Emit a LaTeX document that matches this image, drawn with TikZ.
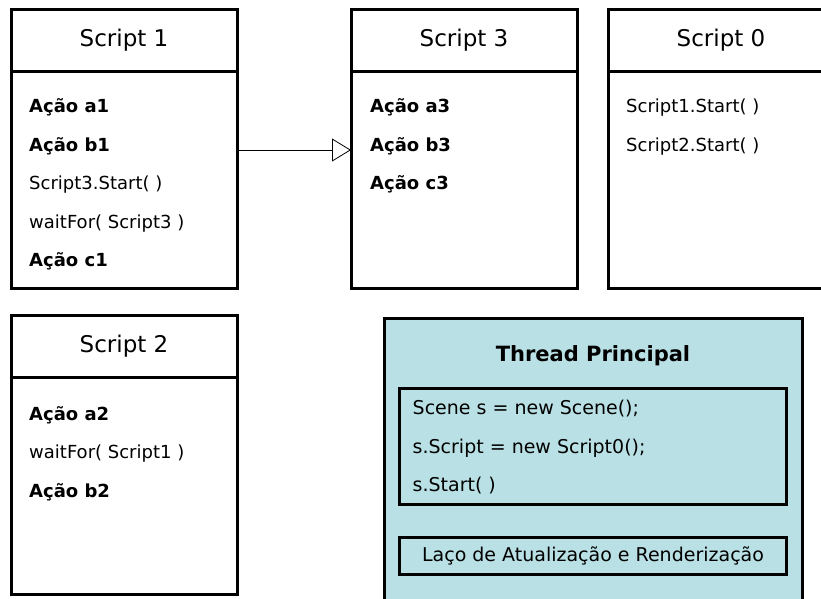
\documentclass[tikz,border=0pt]{standalone}
\usepackage{fontspec}
\setmainfont{DejaVu Sans}
\usetikzlibrary{arrows.meta, positioning, matrix}
\definecolor{threadfill}{RGB}{185,224,228}

\begin{document}
\begin{tikzpicture}[x=1pt, y=-1pt,
    box/.style={draw, line width=3pt, outer sep=0pt, inner sep=0pt,
        minimum width=226pt},
    head/.style={box, minimum height=62pt, font=\fontsize{23}{27}\selectfont},
    body/.style={box, minimum height=217pt},
    lines/.style={matrix of nodes, row sep=19.5pt, inner sep=0pt,
        nodes={anchor=base west, inner sep=1pt, text height=13pt,
            text depth=4pt, font=\fontsize{18}{22}\selectfont}},
    act/.style={font=\fontsize{18}{22}\selectfont\bfseries},
    inbox/.style={draw, line width=3pt, outer sep=0pt, minimum width=387pt}]
    \useasboundingbox (0,0) rectangle (821,598);

    % scripts: title on top, actions below
    \node[head] (h1) at (124,40) {Script 1};
    \node[body, below=0pt of h1] (s1) {};
    \node[head] (h3) at (464,40) {Script 3};
    \node[body, below=0pt of h3] (s3) {};
    \node[head] (h0) at (721,40) {Script 0};
    \node[body, below=0pt of h0] (s0) {};
    \node[head] (h2) at (124,346) {Script 2};
    \node[body, below=0pt of h2] (s2) {};

    \matrix (l1) [lines, anchor=north west] at ([shift={(17,27.5)}]s1.north west) {
        |[act]| Ação a1 \\
        |[act]| Ação b1 \\
        Script3.Start( ) \\
        waitFor( Script3 ) \\
        |[act]| Ação c1 \\
    };
    \matrix (l3) [lines, anchor=north west] at ([shift={(18,27.5)}]s3.north west) {
        |[act]| Ação a3 \\
        |[act]| Ação b3 \\
        |[act]| Ação c3 \\
    };
    \matrix (l0) [lines, anchor=north west] at ([shift={(17,27.5)}]s0.north west) {
        Script1.Start( ) \\
        Script2.Start( ) \\
    };
    \matrix (l2) [lines, anchor=north west] at ([shift={(17,29)}]s2.north west) {
        |[act]| Ação a2 \\
        waitFor( Script1 ) \\
        |[act]| Ação b2 \\
    };

    \draw[-{Triangle[open, length=19pt, width=23pt]}, line width=0.8pt]
        ([yshift=29.5pt]s1.east) -- ([yshift=29.5pt]s3.west);

    % main thread
    \node[draw, fill=threadfill, line width=3pt, outer sep=0pt,
        minimum width=418pt, minimum height=320pt, anchor=north] (main) at (593,318) {};
    \node[font=\fontsize{21}{25}\selectfont\bfseries] (ttl)
        at ([yshift=-38pt]main.north) {Thread Principal};
    \node[inbox, minimum height=116pt, below=70pt of main.north] (init) {};
    \matrix (l4) [lines, nodes={font=\fontsize{19}{23}\selectfont},
        anchor=north west] at ([shift={(12,12.5)}]init.north west) {
        Scene s = new Scene(); \\
        s.Script = new Script0(); \\
        s.Start( ) \\
    };
    \node[inbox, minimum height=37pt, below=33pt of init,
        font=\fontsize{19}{23}\selectfont] (loop) {Laço de Atualização e Renderização};
\end{tikzpicture}
\end{document}
